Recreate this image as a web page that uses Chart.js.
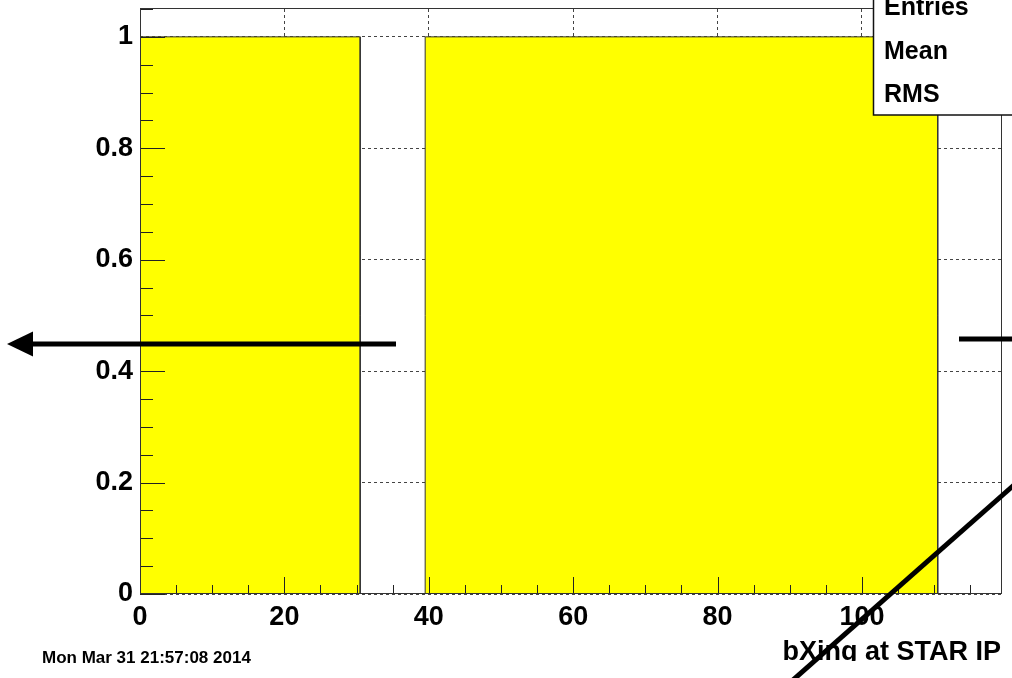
<!DOCTYPE html>
<html>
<head>
<meta charset="utf-8">
<title>bXing at STAR IP</title>
<script src="https://cdn.jsdelivr.net/npm/chart.js@4"></script>
<style>
  html, body { margin: 0; padding: 0; background: #ffffff; }
  #wrap { width: 1012px; height: 678px; position: relative; }
  canvas { display: block; }
</style>
</head>
<body>
<div id="wrap"><canvas id="c" width="1012" height="678"></canvas></div>
<script>
// Filled runs of the bXing histogram (bin edges and content)
const runStart  = [-0.5, 39.5];
const runEnd    = [30.5, 110.5];
const runHeight = [1, 1];

// Axis ranges and labelled ticks
const xRange = [0, 119.4];
const yRange = [0, 1.05];
const xTicks = [0, 20, 40, 60, 80, 100];
const xTickLabels = ['0', '20', '40', '60', '80', '100'];
const yTicks = [0, 0.2, 0.4, 0.6, 0.8, 1];
const yTickLabels = ['0', '0.2', '0.4', '0.6', '0.8', '1'];
const xMinorStep = 5;
const yMinorStep = 0.05;

const xTitle = 'bXing at STAR IP';
const dateText = 'Mon Mar 31 21:57:08 2014';
const statNames = ['Entries', 'Mean', 'RMS'];

const FONT = '"Liberation Sans", Arial, Helvetica, sans-serif';

// Outline of the histogram: up at each run start, across, down at its end
const outline = [];
runStart.forEach((s, i) => {
  outline.push({ x: s, y: 0 });
  outline.push({ x: s, y: runHeight[i] });
  outline.push({ x: runEnd[i], y: runHeight[i] });
  outline.push({ x: runEnd[i], y: 0 });
});

// Frame, inward tick marks, stats box, labels and the arrows on top
const overlay = {
  id: 'overlay',
  afterDatasetsDraw(chart) {
    const { ctx, chartArea: a, scales: { x, y } } = chart;
    ctx.save();
    ctx.strokeStyle = '#222';
    ctx.lineWidth = 1;
    // ticks on the x axis, pointing up into the frame
    for (let v = 0; v <= xRange[1] + 1e-9; v += xMinorStep) {
      const px = Math.round(x.getPixelForValue(v)) + 0.5;
      const major = xTicks.includes(v);
      ctx.beginPath();
      ctx.moveTo(px, a.bottom);
      ctx.lineTo(px, a.bottom - (major ? 17 : 9));
      ctx.stroke();
    }
    // ticks on the y axis, pointing right into the frame
    for (let k = 0; k * yMinorStep <= yRange[1] + 1e-9; k++) {
      const v = +(k * yMinorStep).toFixed(3);
      const py = Math.round(y.getPixelForValue(v)) + 0.5;
      const major = yTicks.includes(v);
      ctx.beginPath();
      ctx.moveTo(a.left, py);
      ctx.lineTo(a.left + (major ? 25 : 13), py);
      ctx.stroke();
    }
    // frame
    ctx.strokeStyle = '#333';
    ctx.strokeRect(a.left + 0.5, a.top - 0.5, a.right - a.left - 1, a.bottom - a.top);
    ctx.restore();
  },
  afterDraw(chart) {
    const { ctx } = chart;
    ctx.save();

    // statistics box, running off the top right corner
    ctx.fillStyle = '#ffffff';
    ctx.fillRect(873, -2, 145, 117);
    ctx.strokeStyle = '#111';
    ctx.lineWidth = 1.5;
    ctx.strokeRect(873.5, -2, 145, 117);
    ctx.fillStyle = '#000';
    ctx.font = 'bold 25px ' + FONT;
    ctx.textAlign = 'left';
    ctx.textBaseline = 'alphabetic';
    const baselines = [15, 59, 102];
    statNames.forEach((t, i) => ctx.fillText(t, 884, baselines[i]));

    // axis title, bottom right; its descenders stop at the pad edge
    ctx.save();
    ctx.beginPath();
    ctx.rect(0, 0, 1012, 661);
    ctx.clip();
    ctx.font = 'bold 27px ' + FONT;
    ctx.textAlign = 'right';
    ctx.fillText(xTitle, 1001, 660);
    ctx.restore();

    // time stamp
    ctx.font = 'bold 17px ' + FONT;
    ctx.textAlign = 'left';
    ctx.fillText(dateText, 42, 663);

    // hand-drawn arrows
    ctx.strokeStyle = '#000';
    ctx.fillStyle = '#000';
    ctx.lineWidth = 5;
    ctx.lineCap = 'butt';
    ctx.beginPath();
    ctx.moveTo(396, 344);
    ctx.lineTo(30, 344);
    ctx.stroke();
    ctx.beginPath();
    ctx.moveTo(7, 344);
    ctx.lineTo(33, 331.5);
    ctx.lineTo(33, 356.5);
    ctx.closePath();
    ctx.fill();

    ctx.beginPath();
    ctx.moveTo(959, 339);
    ctx.lineTo(1014, 339);
    ctx.stroke();

    ctx.beginPath();
    ctx.moveTo(793, 680);
    ctx.lineTo(1014, 485);
    ctx.stroke();

    ctx.restore();
  }
};

new Chart(document.getElementById('c'), {
  type: 'line',
  data: {
    datasets: [{
      data: outline,
      borderColor: '#333',
      borderWidth: 1,
      backgroundColor: '#ffff00',
      fill: 'origin',
      pointRadius: 0,
      tension: 0
    }]
  },
  options: {
    responsive: false,
    animation: false,
    devicePixelRatio: 1,
    events: [],
    layout: { padding: { top: 9, right: 10, left: 0, bottom: 0 } },
    plugins: { legend: { display: false }, title: { display: false }, tooltip: { enabled: false } },
    scales: {
      x: {
        type: 'linear',
        min: xRange[0],
        max: xRange[1],
        afterBuildTicks: s => { s.ticks = xTicks.map(v => ({ value: v })); },
        afterFit: s => { s.height = 84; s.paddingLeft = 0; s.paddingRight = 0; },
        ticks: {
          autoSkip: false,
          maxRotation: 0,
          padding: 7,
          color: '#000',
          font: { family: FONT, size: 27, weight: 'bold' },
          callback: (v) => xTickLabels[xTicks.indexOf(v)]
        },
        grid: { color: '#444', lineWidth: 1, drawTicks: false },
        border: { display: false, dash: [3, 3] }
      },
      y: {
        min: yRange[0],
        max: yRange[1],
        afterBuildTicks: s => { s.ticks = yTicks.map(v => ({ value: v })); },
        afterFit: s => { s.width = 140; s.paddingTop = 0; s.paddingBottom = 0; },
        ticks: {
          autoSkip: false,
          padding: 7,
          color: '#000',
          font: { family: FONT, size: 27, weight: 'bold' },
          callback: (v) => yTickLabels[yTicks.indexOf(v)]
        },
        grid: { color: '#444', lineWidth: 1, drawTicks: false },
        border: { display: false, dash: [3, 3] }
      }
    }
  },
  plugins: [overlay]
});
</script>
</body>
</html>
